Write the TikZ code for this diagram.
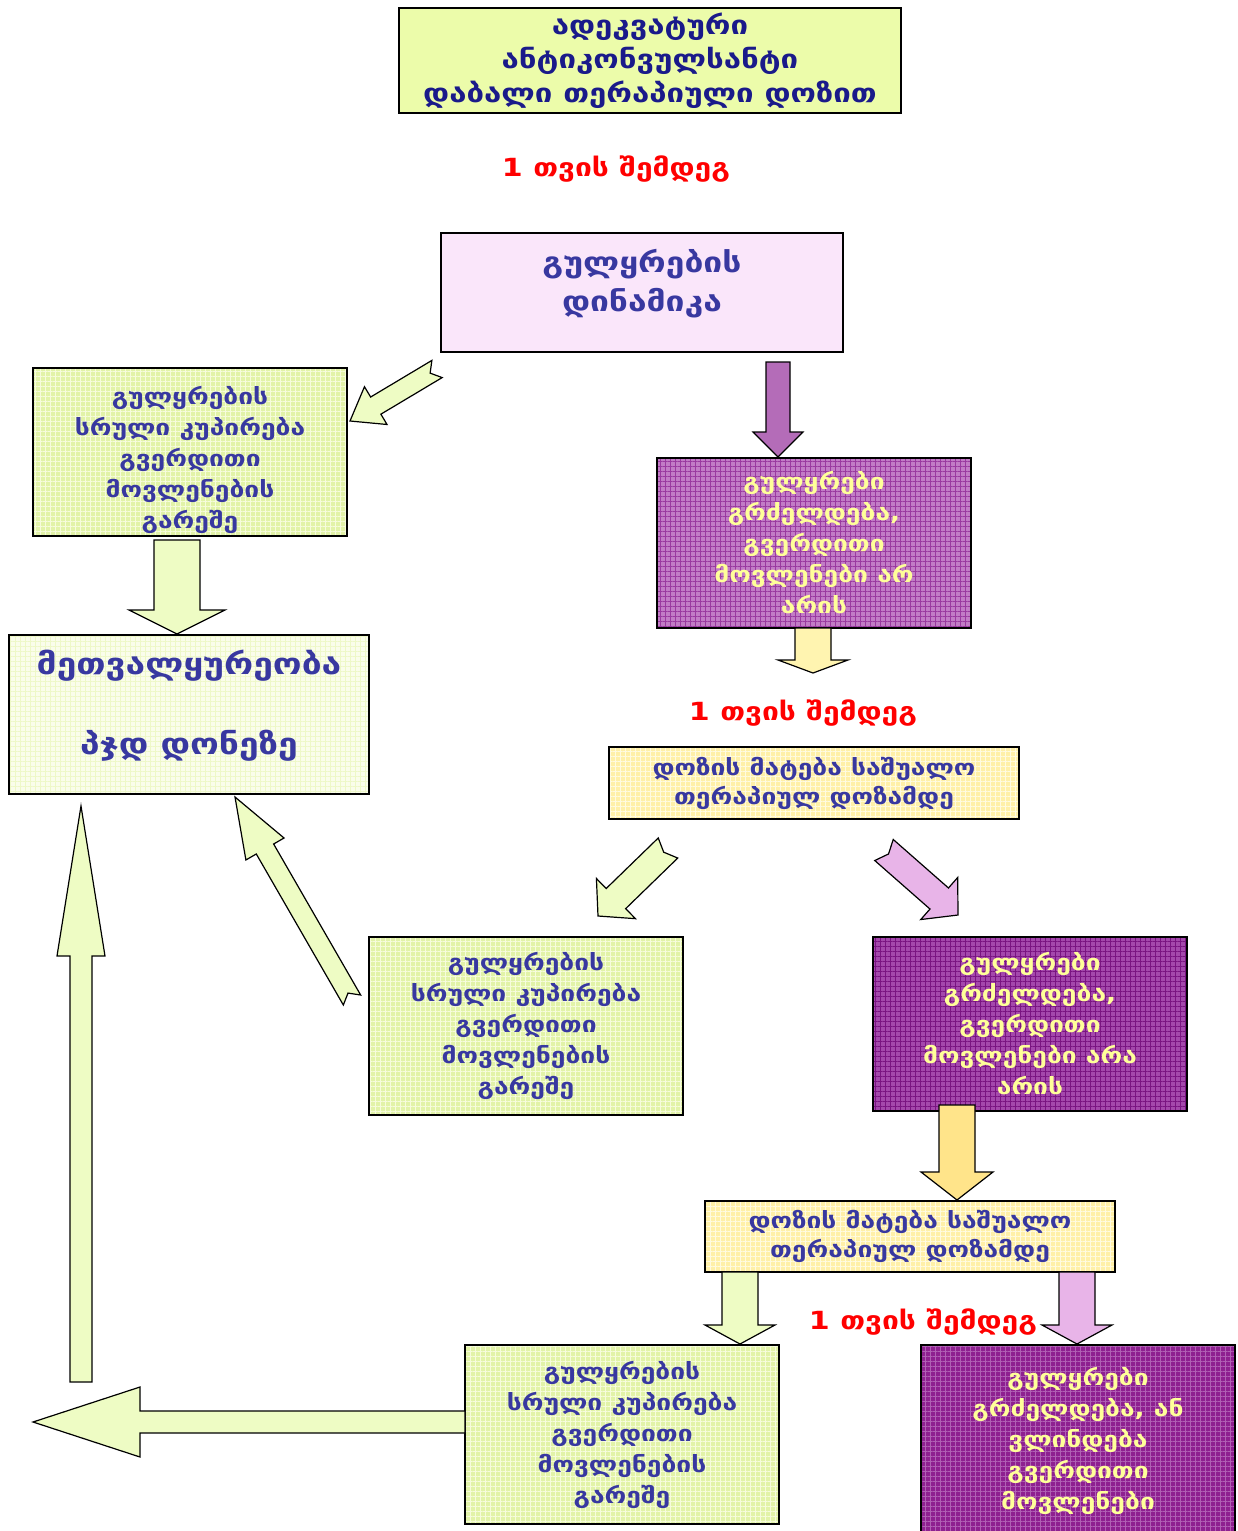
\documentclass[tikz,border=0pt]{standalone}
\usepackage{fontspec}
\setmainfont{DejaVu Sans}
\newfontfamily\geo[FakeStretch=1.2]{DejaVu Sans Bold}
\usetikzlibrary{calc,patterns.meta}
\definecolor{ttlbg}{HTML}{ECFCAA}
\definecolor{navy}{HTML}{1A1A8A}
\definecolor{txtblue}{HTML}{3838A0}
\definecolor{pinkbg}{HTML}{FAE6FA}
\definecolor{greenbg}{HTML}{E2F3A8}
\definecolor{greengrid}{HTML}{F6FCDC}
\definecolor{monbg}{HTML}{FAFDEB}
\definecolor{mongrid}{HTML}{EEF8C8}
\definecolor{purpA}{HTML}{C27CC6}
\definecolor{purpAgrid}{HTML}{9A3AA0}
\definecolor{purpB}{HTML}{A448AC}
\definecolor{purpBgrid}{HTML}{7A1482}
\definecolor{purpC}{HTML}{8E2090}
\definecolor{purpCgrid}{HTML}{B060B4}
\definecolor{yelbg}{HTML}{FFF0A8}
\definecolor{yelgrid}{HTML}{FFFBE0}
\definecolor{yeltxt}{HTML}{FFFF99}
\definecolor{arrgreen}{HTML}{EEFCC4}
\definecolor{arrpurple}{HTML}{B46CB8}
\definecolor{arrpink}{HTML}{E8B4E8}
\definecolor{arryel}{HTML}{FFE48A}
\definecolor{arrpale}{HTML}{FFF4B0}
\definecolor{redlbl}{HTML}{FF0000}
\tikzset{
  box/.style={draw=black, line width=1.3pt, inner sep=0pt, align=center, anchor=center},
  gtext/.style={text=txtblue, font=\geo\fontsize{22}{31}\selectfont},
  ptext/.style={text=yeltxt, font=\geo\fontsize{22}{31}\selectfont},
  gridded/.style 2 args={preaction={fill=#1}, preaction={pattern={Hatch[distance=5pt,angle=0,line width=0.7pt]}, pattern color=#2}},
  greenbox/.style={box, gridded={greenbg}{greengrid}, gtext, minimum width=314pt},
  yelbox/.style={box, gridded={yelbg}{yelgrid}, gtext, font=\geo\fontsize{22}{29}\selectfont, minimum width=410pt, minimum height=72pt},
  redlabel/.style={text=redlbl, font=\geo\fontsize{25}{26}\selectfont},
  arrowbase/.style={draw=black, line width=1.2pt, line join=miter, fill=arrgreen},
}
% block arrow: [style]{start}{end}{shaft half width}{head half width}{head length}{tail notch}
\newcommand\barr[7][]{%
  \coordinate (bS) at #2; \coordinate (bE) at #3;
  \coordinate (bH) at ($(bE)!#6!(bS)$);
  \coordinate (bN) at ($(bS)!#7!(bE)$);
  \draw[arrowbase,#1] ($(bS)!#4!90:(bE)$) -- ($(bH)!#4!90:(bE)$) -- ($(bH)!#5!90:(bE)$) -- (bE)
     -- ($(bH)!#5!-90:(bE)$) -- ($(bH)!#4!-90:(bE)$) -- ($(bS)!#4!-90:(bE)$) -- (bN) -- cycle;}
\begin{document}
\begin{tikzpicture}[x=1pt,y=-1pt]
\useasboundingbox (0,0) rectangle (1237,1531);
\fill[white] (0,0) rectangle (1237,1531);

% boxes
\node[box, fill=ttlbg, minimum width=502pt, minimum height=105pt, text=navy,
      font=\geo\fontsize{26}{34}\selectfont] (title) at (650,60.5)
  {ადეკვატური\\ანტიკონვულსანტი\\დაბალი თერაპიული დოზით};
\node[redlabel] (m1) at (616,169) {1 თვის შემდეგ};

\node[box, fill=pinkbg, minimum width=402pt, minimum height=119pt] (dyn) at (642,292.5) {};
\node[text=txtblue, align=center, font=\geo\fontsize{28}{39}\selectfont] (dyntext) at (642,284)
  {გულყრების\\დინამიკა};

\node[greenbox, minimum height=168pt,
      path picture={\node[gtext, align=center] at ([yshift=-8pt]path picture bounding box.center)
      {გულყრების\\სრული კუპირება\\გვერდითი\\მოვლენების\\გარეშე};}] (g1) at (190,452) {};

\node[box, gridded={purpA}{purpAgrid}, ptext, minimum width=314pt, minimum height=170pt] (p1) at (814,543)
  {გულყრები\\გრძელდება,\\გვერდითი\\მოვლენები არ\\არის};

\node[box, gridded={monbg}{mongrid}, minimum width=360pt, minimum height=159pt] (mon) at (189,714.5) {};
\node[text=txtblue, align=center, font=\geo\fontsize{29.5}{40}\selectfont] (montext) at (189,706)
  {მეთვალყურეობა\\[40pt]პჯდ დონეზე};

\node[redlabel] (m2) at (803,713) {1 თვის შემდეგ};
\node[yelbox] (y1) at (814,783) {დოზის მატება საშუალო\\თერაპიულ დოზამდე};

\node[greenbox, minimum height=178pt] (g2) at (526,1026)
  {გულყრების\\სრული კუპირება\\გვერდითი\\მოვლენების\\გარეშე};
\node[box, gridded={purpB}{purpBgrid}, ptext, minimum width=314pt, minimum height=174pt] (p2) at (1030,1024)
  {გულყრები\\გრძელდება,\\გვერდითი\\მოვლენები არა\\არის};

\node[yelbox, minimum height=71pt] (y2) at (910,1236.5) {დოზის მატება საშუალო\\თერაპიულ დოზამდე};
\node[redlabel] (m3) at (923,1322) {1 თვის შემდეგ};

\node[greenbox, minimum height=179pt] (g3) at (622,1434.5)
  {გულყრების\\სრული კუპირება\\გვერდითი\\მოვლენების\\გარეშე};
\node[box, gridded={purpC}{purpCgrid}, ptext, minimum width=314pt, minimum height=192pt] (p3) at (1078,1441)
  {გულყრები\\გრძელდება, ან\\ვლინდება\\გვერდითი\\მოვლენები};

% block arrows
\barr{(437,369)}{(350,421)}{10pt}{22pt}{30pt}{8pt}
\barr[fill=arrpurple]{(778,362)}{(778,457)}{12pt}{25pt}{25pt}{0pt}
\barr{(177,540)}{(177,634)}{23pt}{48pt}{24pt}{0pt}
\barr[fill=arrpale]{(813,628)}{(813,673)}{18pt}{35pt}{13pt}{0pt}
\barr{(668,848)}{(598,916)}{14pt}{28pt}{25pt}{6pt}
\barr[fill=arrpink]{(884,850)}{(958,915)}{14pt}{28pt}{25pt}{6pt}
\barr{(352,1000)}{(235,797)}{10pt}{22pt}{60pt}{8pt}
\barr[fill=arryel]{(957,1105)}{(957,1200)}{18pt}{36pt}{28pt}{0pt}
\barr{(740,1272)}{(740,1344)}{18pt}{35pt}{19pt}{0pt}
\barr[fill=arrpink]{(1077,1272)}{(1077,1344)}{18pt}{35pt}{19pt}{0pt}
\barr{(465,1422)}{(33,1422)}{11pt}{35pt}{107pt}{0pt}
\barr{(81,1382)}{(81,806)}{11pt}{24pt}{150pt}{0pt}
\end{tikzpicture}
\end{document}
